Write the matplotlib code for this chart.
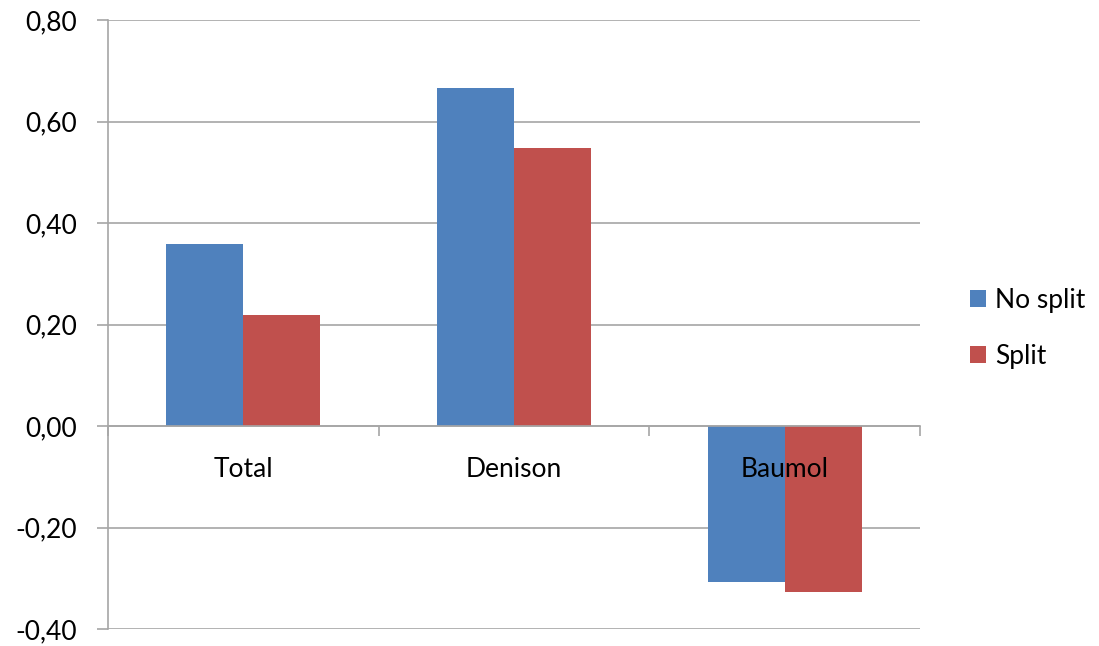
import matplotlib.pyplot as plt
import numpy as np
from matplotlib.ticker import FuncFormatter

categories = ["Total", "Denison", "Baumol"]
no_split = [0.358, 0.666, -0.307]
split = [0.218, 0.548, -0.327]
series_labels = ["No split", "Split"]
colors = ["#4f81bd", "#c0504d"]
grid_color = "#a6a6a6"

plt.rcParams["font.family"] = ["Lato", "DejaVu Sans"]

fig = plt.figure(figsize=(10.99, 6.46), dpi=100)
ax = fig.add_axes([0.0983, 0.0263, 0.7388, 0.9427])

x = np.arange(len(categories))
width = 0.285
ax.bar(x - width / 2, no_split, width, color=colors[0], label=series_labels[0], zorder=3)
ax.bar(x + width / 2, split, width, color=colors[1], label=series_labels[1], zorder=3)

ax.set_xlim(-0.5, len(categories) - 0.5)
ax.set_ylim(-0.4, 0.8)
ax.set_yticks(np.arange(-0.4, 0.81, 0.2))
ax.yaxis.set_major_formatter(FuncFormatter(lambda v, _: f"{v:.2f}".replace(".", ",")))
ax.yaxis.grid(True, color=grid_color, linewidth=1.2, zorder=0)
ax.tick_params(axis="y", length=8, width=1.2, color=grid_color, pad=14, labelsize=19, labelcolor="#000000")

# category axis sits on the zero line, labels drawn over the bars
ax.spines["bottom"].set_position(("data", 0))
ax.spines["bottom"].set_color(grid_color)
ax.spines["bottom"].set_linewidth(1.2)
ax.spines["bottom"].set_zorder(4)
ax.set_xticks(np.arange(len(categories) + 1) - 0.5)
ax.set_xticklabels([])
ax.tick_params(axis="x", which="major", length=7, width=1.2, color=grid_color, direction="out")
ax.set_xticks(x, minor=True)
ax.set_xticklabels(categories, minor=True)
ax.tick_params(axis="x", which="minor", length=0, pad=22, labelsize=19, labelcolor="#000000")
ax.xaxis.set_zorder(5)

ax.spines["left"].set_color(grid_color)
ax.spines["left"].set_linewidth(1.2)
ax.spines["top"].set_visible(False)
ax.spines["right"].set_visible(False)

ax.legend(
    loc="center left",
    bbox_to_anchor=(0.871, 0.492),
    bbox_transform=fig.transFigure,
    frameon=False,
    fontsize=19,
    handlelength=0.6,
    handleheight=0.6,
    handletextpad=0.35,
    labelspacing=1.18,
    borderpad=0,
)

fig.savefig("out.png", dpi=100, facecolor="white")
